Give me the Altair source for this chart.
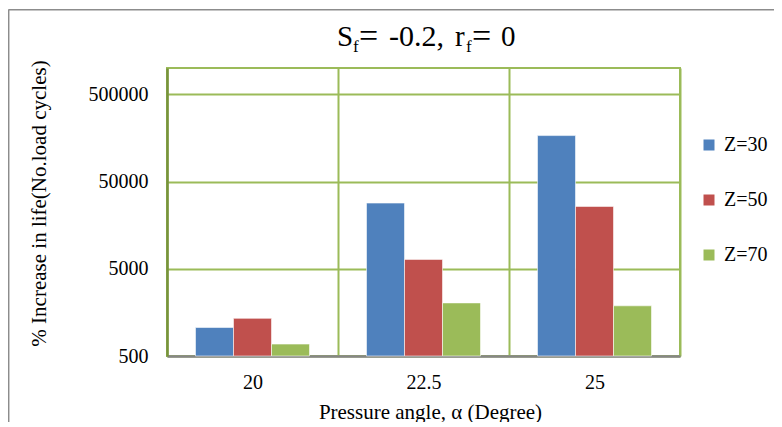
import altair as alt
import pandas as pd

# ---- data ----
angles = ["20", "22.5", "25"]
series = ["Z=30", "Z=50", "Z=70"]
z30 = [1060, 28300, 168000]
z50 = [1350, 6400, 25900]
z70 = [685, 2030, 1880]
colors = ["#4F81BD", "#C0504D", "#9BBB59"]
y_ticks = [500, 5000, 50000, 500000]
y_min, y_max = 500, 1000000

rows = []
for i, a in enumerate(angles):
    for s, vals in zip(series, [z30, z50, z70]):
        rows.append({"angle": a, "series": s, "value": vals[i]})
df = pd.DataFrame(rows)

FONT = "Liberation Serif"
W, H = 513, 288
PL, PT = 159, 60
PR = 766 - PL - W
PB = 414 - PT - H

bars = alt.Chart(df).mark_bar(stroke="white", strokeWidth=0.8, strokeOpacity=0.7).encode(
    x=alt.X(
        "angle:N", sort=angles,
        scale=alt.Scale(paddingInner=0, paddingOuter=0),
        axis=alt.Axis(
            title="Pressure angle, α (Degree)", labelAngle=0,
            labelFont=FONT, labelFontSize=20, labelColor="black", labelPadding=16,
            ticks=False, tickSize=0, tickBand="extent",
            grid=True, gridColor="#9BBB59", gridWidth=2,
            domainColor="#868686", domainWidth=2.5,
            titleFont=FONT, titleFontSize=21, titleFontWeight="normal", titleColor="black",
            titleX=263, titleY=62, titleBaseline="alphabetic", titleAnchor="middle",
        ),
    ),
    xOffset=alt.XOffset("series:N", sort=series,
                        scale=alt.Scale(paddingInner=0, paddingOuter=0.75)),
    y=alt.Y(
        "value:Q", stack=None,
        scale=alt.Scale(type="log", domain=[y_min, y_max]),
        axis=alt.Axis(
            title="% Increase in life(No.load  cycles)", values=y_ticks, format="d",
            labelFont=FONT, labelFontSize=20, labelColor="black", labelPadding=19,
            ticks=False, tickSize=0,
            grid=True, gridColor="#9BBB59", gridWidth=2,
            domainColor="#77933C", domainWidth=2.5,
            titleFont=FONT, titleFontSize=21, titleFontWeight="normal", titleColor="black",
            titleX=-122, titleY=135, titleAngle=270, titleBaseline="alphabetic",
            titleAnchor="middle",
        ),
    ),
    y2=alt.Y2(datum=y_min),
    color=alt.Color(
        "series:N",
        scale=alt.Scale(domain=series, range=colors),
        legend=alt.Legend(
            title=None, orient="none", legendX=532, legendY=67,
            symbolType="square", symbolSize=121, symbolStrokeWidth=0,
            labelFont=FONT, labelFontSize=20, labelColor="black", labelOffset=5,
            rowPadding=35, padding=0,
        ),
    ),
)

one = pd.DataFrame({"d": [0]})


def txt(s, px, py, size):
    return alt.Chart(one).mark_text(
        text=s, font=FONT, fontSize=size, color="black",
        align="left", baseline="alphabetic",
    ).encode(x=alt.value(px - 167), y=alt.value(py - 68))


title_parts = [
    txt("S", 337, 46, 29),
    txt("f", 353, 52, 17),
    txt("=", 359, 47, 34),
    txt("-0.2,", 389, 46, 30),
    txt("r", 455, 46, 29),
    txt("f", 466, 52, 17),
    txt("=", 472, 47, 34),
    txt("0", 501, 46, 29),
]

frame_top = alt.Chart(one).mark_rule(color="#8C8C8C", strokeWidth=1.5).encode(
    x=alt.value(-158.5), x2=alt.value(620), y=alt.value(-58.3)
)
frame_left = alt.Chart(one).mark_rule(color="#8C8C8C", strokeWidth=1.5).encode(
    x=alt.value(-158.3), y=alt.value(-58.5), y2=alt.value(360)
)

chart = alt.layer(frame_top, frame_left, bars, *title_parts).properties(
    width=W, height=H,
    autosize=alt.AutoSizeParams(type="none"),
    padding={"left": PL, "top": PT, "right": PR, "bottom": PB},
).configure(font=FONT).configure_legend(labelFont=FONT, labelFontSize=20).configure_view(
    stroke="#9BBB59", strokeWidth=2
)

chart.save("out.html", embed_options={"renderer": "svg", "actions": False})
